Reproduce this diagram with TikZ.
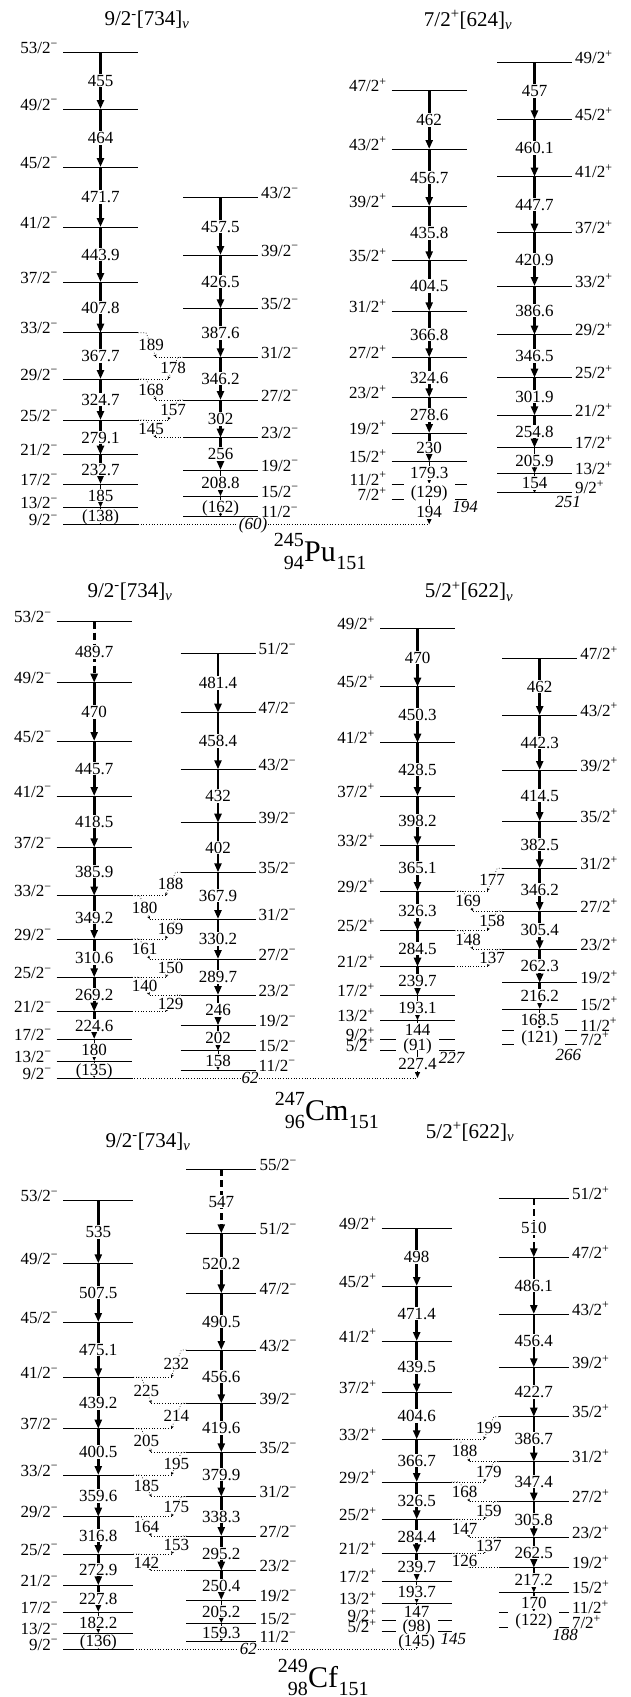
\documentclass[tikz,border=0pt]{standalone}
\usepackage{fontspec}
\setmainfont{Liberation Serif}
\usetikzlibrary{arrows.meta,positioning,calc}

\newcommand{\labfont}{\fontsize{17}{17}\selectfont}
\newcommand{\ttlfont}{\fontsize{21}{21}\selectfont}
\newcommand{\nucfont}{\fontsize{30}{30}\selectfont}
\newcommand{\nscfont}{\fontsize{20}{20}\selectfont}

\tikzset{
  lev/.style={line width=0.8pt},
  trans/.style={line width=2.6pt, -{Triangle[length=9pt,width=7pt]}, nodes={inner sep=1pt}},
  dtrans/.style={trans, dash pattern=on 7pt off 4pt},
  weak/.style={line width=1.4pt, -{Triangle[length=6pt,width=5pt]}, nodes={inner sep=1pt}},
  faint/.style={line width=0.6pt, -{Triangle[length=3pt,width=3pt]}, nodes={inner sep=1pt}},
  head/.style={faint, nodes={inner xsep=7pt, inner ysep=3pt}},
  elab/.style={font=\labfont, fill=white, text height=11.5pt, text depth=0pt},
  jlab/.style={font=\labfont, inner sep=0pt},
  xdot/.style={dotted, line width=0.7pt},
  xlab/.style={font=\labfont, fill=white, inner sep=0.5pt, text height=11.5pt, text depth=0pt},
  ehead/.style={font=\labfont\itshape, fill=white, inner sep=0.5pt},
  ttl/.style={font=\ttlfont},
  nuc/.style={font=\nucfont, inner sep=0pt},
  nsc/.style={font=\nscfont, inner sep=0pt},
}

% one rotational band: name, x centre, half width, label side (-1 left, 1 right),
% parity, levels (2I/y), transitions (energy/style)
\newcommand{\levband}[7]{%
  \foreach \spin/\ypos [count=\lv] in {#6}{
    \coordinate (#1\lv) at (#2,\ypos);
    \coordinate (#1\lv L) at (#2-#3,\ypos);
    \coordinate (#1\lv R) at (#2+#3,\ypos);
    \draw[lev] (#1\lv L) -- (#1\lv R);
    \ifnum#4<0
      \node[jlab, anchor=base east] (#1\lv J) at ($(#1\lv L)+(-5,1)$) {\spin/2\textsuperscript{#5}};
    \else
      \node[jlab, anchor=base west] (#1\lv J) at ($(#1\lv R)+(3,1)$) {\spin/2\textsuperscript{#5}};
    \fi
  }
  \foreach \egam/\sty [count=\lv] in {#7}{
    \pgfmathtruncatemacro\nxt{\lv+1}
    \draw[\sty] (#1\lv) -- node[elab] (#1\lv T) {\egam} (#1\nxt);
  }
}

% dotted inter-band transitions
\newcommand{\xlr}[3]{%
  \draw[xdot, -{Stealth[length=3pt,width=3pt]}] (#1R) -- ++(8,0) -- node[xlab]{#3} ($(#1R |- #2L)+(18,0)$);
  \draw[xdot] ($(#1R |- #2L)+(18,0)$) -- (#2L);}
\newcommand{\xrl}[3]{%
  \draw[xdot, -{Stealth[length=3pt,width=3pt]}] (#1L) -- ++(-5,0) -- node[xlab]{#3} ($(#1L |- #2R)+(-15,0)$);
  \draw[xdot] ($(#1L |- #2R)+(-15,0)$) -- (#2R);}

\begin{document}
\begin{tikzpicture}[x=1pt, y=-1pt]
  \useasboundingbox (0,0) rectangle (631,1697);

  % ---------------- 245Pu ----------------
  \node[ttl] (tPa) at (147,20) {9/2\textsuperscript{-}[734]\textsubscript{\textit{ν}}};
  \node[ttl] (tPc) at (468,20) {7/2\textsuperscript{+}[624]\textsubscript{\textit{ν}}};

  \levband{Pa}{100.5}{37.5}{-1}{−}
    {53/52.3, 49/109, 45/167, 41/227, 37/282, 33/332.7, 29/379, 25/420, 21/454.7, 17/484, 13/507.3, 9/524.3}
    {455/trans, 464/trans, 471.7/trans, 443.9/trans, 407.8/trans, 367.7/trans, 324.7/trans, 279.1/trans, 232.7/trans, 185/weak, (138)/faint}
  \levband{Pb}{220.5}{37.5}{1}{−}
    {43/197.7, 39/255, 35/308.3, 31/357.3, 27/400, 23/437.7, 19/470, 15/496, 11/516.7}
    {457.5/trans, 426.5/trans, 387.6/trans, 346.2/trans, 302/trans, 256/trans, 208.8/weak, (162)/faint}
  \levband{Pc}{429.2}{37.5}{-1}{+}
    {47/90.7, 43/149, 39/206, 35/260.3, 31/311.3, 27/357.3, 23/397.3, 19/433, 15/461.7, 11/484, 7/499.3}
    {462/trans, 456.7/trans, 435.8/trans, 404.5/trans, 366.8/trans, 324.6/trans, 278.6/trans, 230/trans, 179.3/weak, (129)/head}
  \levband{Pd}{534.5}{37.5}{1}{+}
    {49/62.3, 45/119.3, 41/176.7, 37/232.7, 33/286, 29/334.7, 25/377.7, 21/415.3, 17/447.7, 13/473.3, 9/492.7}
    {457/trans, 460.1/trans, 447.7/trans, 420.9/trans, 386.6/trans, 346.5/trans, 301.9/trans, 254.8/trans, 205.9/weak, 154/faint}

  \xlr{Pa6}{Pb4}{189}
  \xrl{Pb4}{Pa7}{178}
  \xlr{Pa7}{Pb5}{168}
  \xrl{Pb5}{Pa8}{157}
  \xlr{Pa8}{Pb6}{145}

  \coordinate (Pg) at (Pc11 |- Pa12);
  \draw[xdot] (Pa12R) -- (Pg);
  \draw[weak] (Pc11) -- node[elab] (PgT) {194} (Pg);
  \node[ehead] (Pb0) at (253,525) {(60)};
  \node[ehead] (Pc0) at (465,507) {194};
  \node[ehead] (Pd0) at (568,501.7) {251};

  \node[nuc, anchor=base west] (pu) at (304,561) {Pu};
  \node[nsc, anchor=base east] (puA) at ($(pu.base west)+(0,-15)$) {245};
  \node[nsc, anchor=base east] (puZ) at ($(pu.base west)+(0,8)$) {94};
  \node[nsc, anchor=base west] (puN) at ($(pu.base east)+(0,8)$) {151};

  % ---------------- 247Cm ----------------
  \node[ttl] (tCa) at (130,591.7) {9/2\textsuperscript{-}[734]\textsubscript{\textit{ν}}};
  \node[ttl] (tCc) at (469,591.7) {5/2\textsuperscript{+}[622]\textsubscript{\textit{ν}}};

  \levband{Ca}{94.2}{37.5}{-1}{−}
    {53/621.7, 49/682.7, 45/741, 41/796, 37/847.3, 33/895.7, 29/939, 25/977.3, 21/1011.7, 17/1039, 13/1061, 9/1078}
    {489.7/dtrans, 470/trans, 445.7/trans, 418.5/trans, 385.9/trans, 349.2/trans, 310.6/trans, 269.2/trans, 224.6/trans, 180/weak, (135)/faint}
  \levband{Cb}{218}{37.5}{1}{−}
    {51/653.3, 47/712.7, 43/769.3, 39/822.7, 35/872.3, 31/919, 27/959, 23/995, 19/1025.3, 15/1050.7, 11/1070}
    {481.4/trans, 458.4/trans, 432/trans, 402/trans, 367.9/trans, 330.2/trans, 289.7/trans, 246/trans, 202/weak, 158/faint}
  \levband{Cc}{417.5}{37.5}{-1}{+}
    {49/628.3, 45/686.7, 41/742.7, 37/796, 33/845.3, 29/891, 25/930.7, 21/966.7, 17/995.7, 13/1020.3, 9/1039.3, 5/1050}
    {470/trans, 450.3/trans, 428.5/trans, 398.2/trans, 365.1/trans, 326.3/trans, 284.5/trans, 239.7/trans, 193.1/weak, 144/faint, (91)/head}
  \levband{Cd}{539.7}{37.5}{1}{+}
    {47/658.3, 43/715, 39/770, 35/821, 31/868.3, 27/911, 23/949.3, 19/982.7, 15/1009, 11/1030, 7/1044}
    {462/trans, 442.3/trans, 414.5/trans, 382.5/trans, 346.2/trans, 305.4/trans, 262.3/trans, 216.2/trans, 168.5/weak, (121)/head}

  \xrl{Cb5}{Ca6}{188}
  \xlr{Ca6}{Cb6}{180}
  \xrl{Cb6}{Ca7}{169}
  \xlr{Ca7}{Cb7}{161}
  \xrl{Cb7}{Ca8}{150}
  \xlr{Ca8}{Cb8}{140}
  \xrl{Cb8}{Ca9}{129}

  \xrl{Cd5}{Cc6}{177}
  \xlr{Cc6}{Cd6}{169}
  \xrl{Cd6}{Cc7}{158}
  \xlr{Cc7}{Cd7}{148}
  \xrl{Cd7}{Cc8}{137}

  \coordinate (Cg) at (Cc12 |- Ca12);
  \draw[xdot] (Ca12R) -- (Cg);
  \draw[weak] (Cc12) -- node[elab] (CgT) {227.4} (Cg);
  \node[ehead] (Cb0) at (250,1078.3) {62};
  \node[ehead] (Cc0) at (451.7,1058.3) {227};
  \node[ehead] (Cd0) at (568.3,1055) {266};

  \node[nuc, anchor=base west] (cm) at (305,1120) {Cm};
  \node[nsc, anchor=base east] (cmA) at ($(cm.base west)+(0,-15)$) {247};
  \node[nsc, anchor=base east] (cmZ) at ($(cm.base west)+(0,8)$) {96};
  \node[nsc, anchor=base west] (cmN) at ($(cm.base east)+(0,8)$) {151};

  % ---------------- 249Cf ----------------
  \node[ttl] (tFa) at (148,1141.7) {9/2\textsuperscript{-}[734]\textsubscript{\textit{ν}}};
  \node[ttl] (tFc) at (470,1131.7) {5/2\textsuperscript{+}[622]\textsubscript{\textit{ν}}};

  \levband{Fa}{98.3}{35}{-1}{−}
    {53/1200.7, 49/1263.3, 45/1322, 41/1377.3, 37/1428.7, 33/1475, 29/1516.7, 25/1554, 21/1585.3, 17/1612, 13/1633.3, 9/1649}
    {535/trans, 507.5/trans, 475.1/trans, 439.2/trans, 400.5/trans, 359.6/trans, 316.8/trans, 272.9/trans, 227.8/trans, 182.2/weak, (136)/faint}
  \levband{Fb}{221.3}{35}{1}{−}
    {55/1169.3, 51/1233.3, 47/1293.3, 43/1350, 39/1403.3, 35/1452.3, 31/1496.7, 27/1536, 23/1570.7, 19/1600, 15/1623.3, 11/1641.7}
    {547/dtrans, 520.2/trans, 490.5/trans, 456.6/trans, 419.6/trans, 379.9/trans, 338.3/trans, 295.2/trans, 250.4/trans, 205.2/weak, 159.3/faint}
  \levband{Fc}{416.7}{35}{-1}{+}
    {49/1228.3, 45/1286, 41/1341, 37/1392.7, 33/1439.3, 29/1482, 25/1519.3, 21/1553.3, 17/1581, 13/1603.3, 9/1620.7, 5/1631.7}
    {498/trans, 471.4/trans, 439.5/trans, 404.6/trans, 366.7/trans, 326.5/trans, 284.4/trans, 239.7/trans, 193.7/weak, 147/faint, (98)/head}
  \levband{Fd}{533.8}{35}{1}{+}
    {51/1198.3, 47/1257.3, 43/1314, 39/1367.3, 35/1416.7, 31/1461.7, 27/1501.7, 23/1537.3, 19/1567.7, 15/1592.7, 11/1612.3, 7/1627.3}
    {510/dtrans, 486.1/trans, 456.4/trans, 422.7/trans, 386.7/trans, 347.4/trans, 305.8/trans, 262.5/trans, 217.2/trans, 170/weak, (122)/head}

  \xrl{Fb4}{Fa4}{232}
  \xlr{Fa4}{Fb5}{225}
  \xrl{Fb5}{Fa5}{214}
  \xlr{Fa5}{Fb6}{205}
  \xrl{Fb6}{Fa6}{195}
  \xlr{Fa6}{Fb7}{185}
  \xrl{Fb7}{Fa7}{175}
  \xlr{Fa7}{Fb8}{164}
  \xrl{Fb8}{Fa8}{153}
  \xlr{Fa8}{Fb9}{142}

  \xrl{Fd5}{Fc5}{199}
  \xlr{Fc5}{Fd6}{188}
  \xrl{Fd6}{Fc6}{179}
  \xlr{Fc6}{Fd7}{168}
  \xrl{Fd7}{Fc7}{159}
  \xlr{Fc7}{Fd8}{147}
  \xrl{Fd8}{Fc8}{137}
  \xlr{Fc8}{Fd9}{126}

  \coordinate (Fg) at (Fc12 |- Fa12);
  \draw[xdot] (Fa12R) -- (Fg);
  \draw[faint] (Fc12) -- node[elab] (FgT) {(145)} (Fg);
  \node[ehead] (Fb0) at (248.3,1649.3) {62};
  \node[ehead] (Fc0) at (453.3,1639.3) {145};
  \node[ehead] (Fd0) at (565,1635) {188};

  \node[nuc, anchor=base west] (cf) at (308,1687) {Cf};
  \node[nsc, anchor=base east] (cfA) at ($(cf.base west)+(0,-15)$) {249};
  \node[nsc, anchor=base east] (cfZ) at ($(cf.base west)+(0,8)$) {98};
  \node[nsc, anchor=base west] (cfN) at ($(cf.base east)+(0,8)$) {151};
\end{tikzpicture}
\end{document}
